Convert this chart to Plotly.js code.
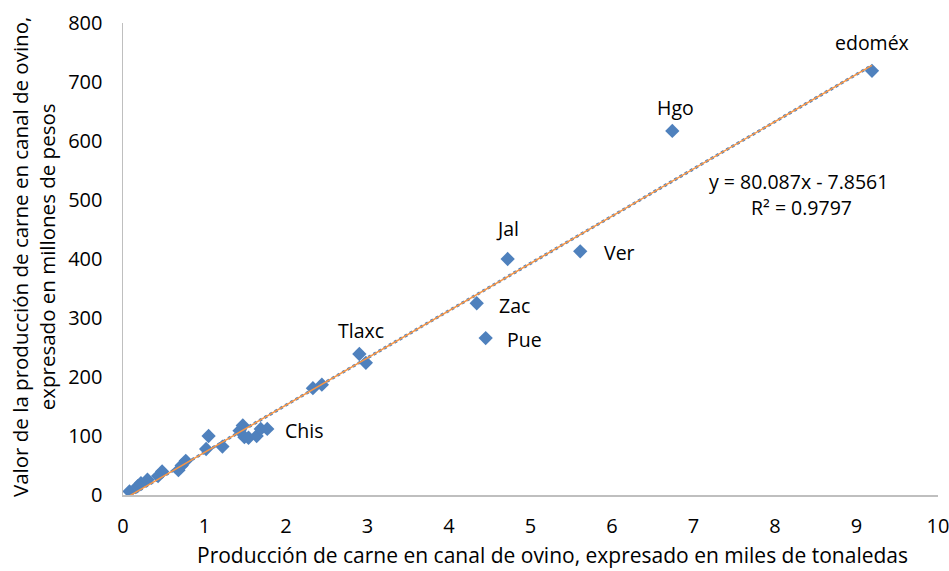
<!DOCTYPE html>
<html>
<head>
<meta charset="utf-8">
<script src="https://cdn.plot.ly/plotly-3.0.1.min.js"></script>
<style>html,body{margin:0;padding:0;background:#fff;}#chart{width:949px;height:571px;}</style>
</head>
<body>
<div id="chart"></div>
<script>
// Producción (miles de toneladas) vs valor (millones de pesos)
const produccion = [0.08, 0.18, 0.22, 0.30, 0.43, 0.48, 0.68, 0.72, 0.77, 1.02, 1.05, 1.22, 1.43, 1.47, 1.49, 1.54, 1.64, 1.69, 1.77, 2.33, 2.44, 2.90, 2.98, 4.34, 4.45, 4.72, 5.61, 6.74, 9.19];
const valor      = [6, 15, 20, 26, 32, 40, 42, 50, 58, 78, 100, 82, 109, 118, 98, 97, 100, 112, 112, 181, 187, 239, 224, 325, 266, 400, 413, 617, 719];

const etiquetas  = ["edoméx", "Hgo", "Ver", "Jal", "Zac", "Pue", "Tlaxc", "Chis"];
const etiquetaX  = [9.19, 6.74, 5.61, 4.72, 4.34, 4.45, 2.90, 1.77];
const etiquetaY  = [719, 617, 413, 400, 325, 266, 239, 112];

const pendiente = 80.087;
const intercepto = -7.8561;
const tendenciaX = [0.08, 9.19];
const tendenciaY = tendenciaX.map(x => pendiente * x + intercepto);
const ecuacion = ["y = 80.087x - 7.8561", "R² = 0.9797"];
const tituloX = 'Producción de carne en canal de ovino, expresado en miles de tonaledas';
const tituloY = 'Valor de la producción de carne en canal de ovino,<br>expresado en millones de pesos';

const font = "'Open Sans', sans-serif";
const fsTick = 20, fsTitle = 20.5, fsLabel = 19.5;
const offsets = {
  "edoméx": [0, -28, 'center'],
  "Hgo":    [3, -23, 'center'],
  "Ver":    [22, 1, 'left'],
  "Jal":    [0, -31, 'center'],
  "Zac":    [20, 2, 'left'],
  "Pue":    [19, 1, 'left'],
  "Tlaxc":  [2, -23, 'center'],
  "Chis":   [16, 2, 'left']
};

const traces = [
  {x: tendenciaX, y: tendenciaY, mode: 'lines', type: 'scatter',
   line: {color: '#4F81BD', width: 3, dash: 'dot'}, hoverinfo: 'skip'},
  {x: produccion, y: valor, mode: 'markers', type: 'scatter',
   marker: {symbol: 'diamond', size: 11, color: '#4F81BD'}},
  {x: tendenciaX, y: tendenciaY, mode: 'lines', type: 'scatter',
   line: {color: '#F79646', width: 1.5}, hoverinfo: 'skip'}
];

const annotations = etiquetas.map((t, i) => {
  const o = offsets[t];
  return {x: etiquetaX[i], y: etiquetaY[i], xref: 'x', yref: 'y', text: t,
    showarrow: false, xshift: o[0], yshift: -o[1], xanchor: o[2],
    font: {family: font, size: fsLabel, color: '#000'}};
});
annotations.push({xref: 'paper', yref: 'paper', x: 0.829, y: 0.664, text: ecuacion[0],
  showarrow: false, xanchor: 'center', yanchor: 'middle', font: {family: font, size: fsLabel, color: '#000'}});
annotations.push({xref: 'paper', yref: 'paper', x: 0.832, y: 0.609, text: ecuacion[1],
  showarrow: false, xanchor: 'center', yanchor: 'middle', font: {family: font, size: fsLabel, color: '#000'}});
// axis titles, placed as in the original
annotations.push({xref: 'paper', yref: 'paper', x: (552 - 123) / 815, y: -(555 - 495) / 472, text: tituloX,
  showarrow: false, xanchor: 'center', yanchor: 'middle', font: {family: font, size: 21, color: '#000'}});
annotations.push({xref: 'paper', yref: 'paper', x: -(123 - 33) / 815, y: (495 - 257) / 472, text: tituloY,
  showarrow: false, xanchor: 'center', yanchor: 'middle', textangle: -90,
  font: {family: font, size: fsTitle, color: '#000'}});

const layout = {
  width: 949, height: 571,
  margin: {l: 123, r: 11, t: 23, b: 76},
  paper_bgcolor: '#fff', plot_bgcolor: '#fff',
  showlegend: false,
  font: {family: font, size: fsTick, color: '#000'},
  xaxis: {range: [0, 10], dtick: 1, showgrid: false, zeroline: false,
    showline: true, linecolor: '#BFBFBF', linewidth: 1.5,
    ticks: 'outside', ticklen: 12, tickcolor: 'rgba(0,0,0,0)',
    ticklabeloverflow: 'allow',
    tickfont: {family: font, size: fsTick, color: '#000'}},
  yaxis: {range: [0, 800], dtick: 100, showgrid: false, zeroline: false,
    showline: true, linecolor: '#BFBFBF', linewidth: 1.5,
    ticks: 'outside', ticklen: 15, tickcolor: 'rgba(0,0,0,0)',
    ticklabeloverflow: 'allow',
    tickfont: {family: font, size: fsTick, color: '#000'}},
  annotations: annotations
};

Plotly.newPlot('chart', traces, layout, {displayModeBar: false, staticPlot: true});
</script>
</body>
</html>
